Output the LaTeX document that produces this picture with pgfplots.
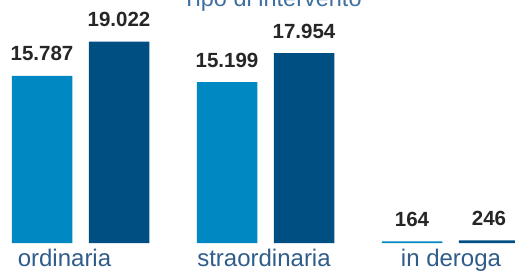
\documentclass[border=0pt]{standalone}
\usepackage{pgfplots}
\pgfplotsset{compat=1.18}
\usepackage{fontspec}
\setmainfont{Liberation Sans}
\definecolor{lightb}{HTML}{0088C2}
\definecolor{darkb}{HTML}{004F82}
\definecolor{labc}{HTML}{2F5C8A}
\definecolor{titc}{HTML}{3F6F9F}
\definecolor{valc}{HTML}{262626}
\begin{document}
\begin{tikzpicture}
\clip (0,0) rectangle (515pt,271pt);
\begin{axis}[
  at={(0pt,28pt)}, anchor=south west,
  scale only axis, width=515pt, height=243pt,
  xmin=0, xmax=515, ymin=0, ymax=22963,
  axis line style={draw=none},
  ytick=\empty,
  xtick={64.5,264,451},
  xticklabels={ordinaria,straordinaria,in deroga},
  major tick length=0pt,
  xticklabel style={anchor=base, inner sep=0pt, yshift=-23pt, text=labc, font=\fontsize{24}{28}\selectfont},
  title={Tipo di intervento},
  title style={at={(axis description cs:0.528,1)}, anchor=base, yshift=-12.5pt, inner sep=0pt, text=titc, font=\fontsize{23.5}{28}\selectfont},
  ybar, bar width=60.5pt,
  nodes near coords,
  every node near coord/.append style={anchor=base, yshift=15pt, inner sep=0pt, text=valc, font=\fontsize{20.5}{24}\selectfont\bfseries,
    /pgf/number format/.cd, fixed, precision=0, 1000 sep={.}, assume math mode=true},
  clip=false,
]
\addplot[fill=lightb, draw=none, bar shift=-38.5pt] coordinates {(80.5,15787) (265.5,15199) (450.5,164)};
\addplot[fill=darkb, draw=none, bar shift=38.5pt] coordinates {(80.5,19022) (265.5,17954) (450.5,246)};
\end{axis}
\end{tikzpicture}
\end{document}
